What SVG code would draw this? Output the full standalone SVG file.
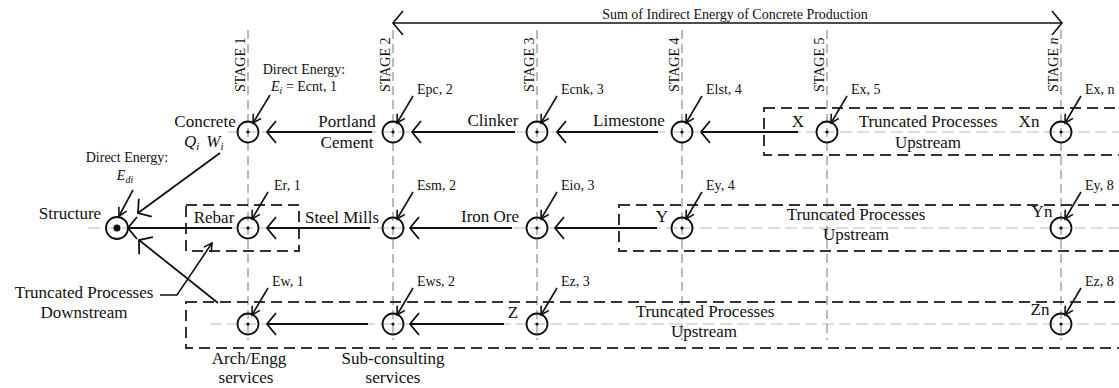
<svg xmlns="http://www.w3.org/2000/svg" width="1119" height="388" viewBox="0 0 1119 388">
<style>
text{font-family:"Liberation Serif","Times New Roman",serif;fill:#111}
.lb{font-size:17px}
.sm{font-size:14px}
.st{font-size:14px}
.tp{font-size:14px}
.it{font-style:italic}
.stage{stroke:#777;stroke-width:1;stroke-dasharray:9 5;fill:none}
.cl{stroke:#bbb;stroke-width:1;stroke-dasharray:12 5;fill:none}
.box{stroke:#333;stroke-width:2;stroke-dasharray:11 6;fill:none}
.nd{stroke:#111;stroke-width:1.8;fill:none}
.dot{fill:#111}
.ar{stroke:#111;stroke-width:1.8;fill:none;marker-end:url(#big)}
.pt{stroke:#111;stroke-width:1.6;fill:none;marker-end:url(#sm)}
</style>
<defs>
<marker id="big" markerUnits="userSpaceOnUse" markerWidth="30" markerHeight="30" refX="0" refY="0" orient="auto" overflow="visible" viewBox="-15 -15 30 30">
<path d="M9,-11 L0,0 L9,11" transform="scale(-1,1)" stroke="#111" stroke-width="1.8" fill="none"/>
</marker>
<marker id="sm" markerUnits="userSpaceOnUse" markerWidth="20" markerHeight="20" refX="0" refY="0" orient="auto" overflow="visible" viewBox="-10 -10 20 20">
<path d="M-8,-4.5 L0,0 L-8,4.5" stroke="#111" stroke-width="1.6" fill="none"/>
</marker>
<marker id="top" markerUnits="userSpaceOnUse" markerWidth="30" markerHeight="30" refX="0" refY="0" orient="auto-start-reverse" overflow="visible" viewBox="-15 -15 30 30">
<path d="M-10,-12 L0,0 L-10,12" stroke="#111" stroke-width="1.6" fill="none"/>
</marker>
</defs>
<rect width="1119" height="388" fill="#fff"/>

<g id="gridlines">
<line class="cl" x1="228" y1="132" x2="1119" y2="132"/>
<line class="cl" x1="88" y1="228" x2="1119" y2="228"/>
<line class="cl" x1="210" y1="324" x2="1119" y2="324"/>
<line class="stage" x1="248" y1="30" x2="248" y2="340"/>
<line class="stage" x1="393" y1="30" x2="393" y2="340"/>
<line class="stage" x1="537" y1="30" x2="537" y2="340"/>
<line class="stage" x1="682" y1="30" x2="682" y2="340"/>
<line class="stage" x1="827" y1="30" x2="827" y2="340"/>
<line class="stage" x1="1061" y1="30" x2="1061" y2="340"/>
<text class="st" transform="translate(245,92) rotate(-90)">STAGE 1</text>
<text class="st" transform="translate(390,92) rotate(-90)">STAGE 2</text>
<text class="st" transform="translate(534,92) rotate(-90)">STAGE 3</text>
<text class="st" transform="translate(679,92) rotate(-90)">STAGE 4</text>
<text class="st" transform="translate(824,92) rotate(-90)">STAGE 5</text>
<text class="st" transform="translate(1058,92) rotate(-90)">STAGE <tspan class="it">n</tspan></text>
</g>

<g id="sum-arrow">
<line x1="393" y1="23" x2="1062" y2="23" stroke="#111" stroke-width="1.6" marker-start="url(#top)" marker-end="url(#top)"/>
<text class="tp" x="735" y="19" text-anchor="middle">Sum of Indirect Energy of Concrete Production</text>
</g>

<g id="boxes">
<rect class="box" x="186" y="205" width="113" height="46"/>
<rect class="box" x="764" y="108" width="380" height="47"/>
<rect class="box" x="619" y="205" width="525" height="46"/>
<rect class="box" x="186" y="302" width="958" height="46"/>
</g>

<g id="structure">
<circle class="nd" cx="117" cy="228" r="11"/>
<circle class="dot" cx="117" cy="228" r="3.5"/>
<text class="lb" x="70" y="219" text-anchor="middle">Structure</text>
<text class="sm" x="127" y="162" text-anchor="middle">Direct Energy:</text>
<text class="sm" x="125" y="180" text-anchor="middle"><tspan class="it">E</tspan><tspan class="it" font-size="10" dy="3">di</tspan></text>
</g>

<g id="concrete">
<circle class="nd" cx="248" cy="132" r="10.5"/>
<circle class="dot" cx="248" cy="132" r="1.6"/>
<text class="lb" x="205" y="127" text-anchor="middle">Concrete</text>
<text class="lb" x="184" y="147"><tspan class="it">Q</tspan><tspan class="it" font-size="11" dy="3">i</tspan><tspan class="it" dx="7" dy="-3">W</tspan><tspan class="it" font-size="11" dy="3">i</tspan></text>
<text class="sm" x="304" y="74" text-anchor="middle">Direct Energy:</text>
<text class="sm" x="304" y="91" text-anchor="middle"><tspan class="it">E</tspan><tspan class="it" font-size="10" dy="3">i</tspan><tspan dy="-3"> = Ecnt, 1</tspan></text>
</g>

<g id="portland-cement">
<circle class="nd" cx="393" cy="132" r="10.5"/>
<circle class="dot" cx="393" cy="132" r="1.6"/>
<text class="lb" x="347" y="127" text-anchor="middle">Portland</text>
<text class="lb" x="347" y="148" text-anchor="middle">Cement</text>
<text class="sm" x="417" y="94">Epc, 2</text>
</g>

<g id="clinker">
<circle class="nd" cx="537" cy="132" r="10.5"/>
<circle class="dot" cx="537" cy="132" r="1.6"/>
<text class="lb" x="493" y="126" text-anchor="middle">Clinker</text>
<text class="sm" x="561" y="94">Ecnk, 3</text>
</g>

<g id="limestone">
<circle class="nd" cx="682" cy="132" r="10.5"/>
<circle class="dot" cx="682" cy="132" r="1.6"/>
<text class="lb" x="629" y="126" text-anchor="middle">Limestone</text>
<text class="sm" x="706" y="94">Elst, 4</text>
</g>

<g id="x5">
<circle class="nd" cx="827" cy="132" r="10.5"/>
<circle class="dot" cx="827" cy="132" r="1.6"/>
<text class="lb" x="798" y="127" text-anchor="middle">X</text>
<text class="sm" x="851" y="94">Ex, 5</text>
<text class="lb" x="928" y="127" text-anchor="middle">Truncated Processes</text>
<text class="lb" x="928" y="148" text-anchor="middle">Upstream</text>
</g>

<g id="xn">
<circle class="nd" cx="1061" cy="132" r="10.5"/>
<circle class="dot" cx="1061" cy="132" r="1.6"/>
<text class="lb" x="1029" y="127" text-anchor="middle">Xn</text>
<text class="sm" x="1085" y="94">Ex, n</text>
</g>

<g id="rebar">
<circle class="nd" cx="248" cy="228" r="10.5"/>
<circle class="dot" cx="248" cy="228" r="1.6"/>
<text class="lb" x="214" y="223" text-anchor="middle">Rebar</text>
<text class="sm" x="274" y="190">Er, 1</text>
</g>

<g id="steel-mills">
<circle class="nd" cx="393" cy="228" r="10.5"/>
<circle class="dot" cx="393" cy="228" r="1.6"/>
<text class="lb" x="342" y="223" text-anchor="middle">Steel Mills</text>
<text class="sm" x="417" y="190">Esm, 2</text>
</g>

<g id="iron-ore">
<circle class="nd" cx="537" cy="228" r="10.5"/>
<circle class="dot" cx="537" cy="228" r="1.6"/>
<text class="lb" x="490" y="222" text-anchor="middle">Iron Ore</text>
<text class="sm" x="561" y="190">Eio, 3</text>
</g>

<g id="y4">
<circle class="nd" cx="682" cy="228" r="10.5"/>
<circle class="dot" cx="682" cy="228" r="1.6"/>
<text class="lb" x="662" y="222" text-anchor="middle">Y</text>
<text class="sm" x="706" y="190">Ey, 4</text>
<text class="lb" x="856" y="220" text-anchor="middle">Truncated Processes</text>
<text class="lb" x="856" y="240" text-anchor="middle">Upstream</text>
</g>

<g id="yn">
<circle class="nd" cx="1061" cy="228" r="10.5"/>
<circle class="dot" cx="1061" cy="228" r="1.6"/>
<text class="lb" x="1042" y="217" text-anchor="middle">Yn</text>
<text class="sm" x="1085" y="190">Ey, 8</text>
</g>

<g id="arch-engg">
<circle class="nd" cx="248" cy="324" r="10.5"/>
<circle class="dot" cx="248" cy="324" r="1.6"/>
<text class="lb" x="249" y="364" text-anchor="middle">Arch/Engg</text>
<text class="lb" x="246" y="383" text-anchor="middle">services</text>
<text class="sm" x="272" y="286">Ew, 1</text>
</g>

<g id="sub-consulting">
<circle class="nd" cx="393" cy="324" r="10.5"/>
<circle class="dot" cx="393" cy="324" r="1.6"/>
<text class="lb" x="393" y="364" text-anchor="middle">Sub-consulting</text>
<text class="lb" x="393" y="383" text-anchor="middle">services</text>
<text class="sm" x="417" y="286">Ews, 2</text>
</g>

<g id="z3">
<circle class="nd" cx="537" cy="324" r="10.5"/>
<circle class="dot" cx="537" cy="324" r="1.6"/>
<text class="lb" x="513" y="318" text-anchor="middle">Z</text>
<text class="sm" x="561" y="286">Ez, 3</text>
<text class="lb" x="705" y="317" text-anchor="middle">Truncated Processes</text>
<text class="lb" x="704" y="337" text-anchor="middle">Upstream</text>
</g>

<g id="zn">
<circle class="nd" cx="1061" cy="324" r="10.5"/>
<circle class="dot" cx="1061" cy="324" r="1.6"/>
<text class="lb" x="1040" y="315" text-anchor="middle">Zn</text>
<text class="sm" x="1085" y="286">Ez, 8</text>
</g>

<g id="downstream">
<text class="lb" x="84" y="298" text-anchor="middle">Truncated Processes</text>
<text class="lb" x="84" y="318" text-anchor="middle">Downstream</text>
</g>

<g id="connectors">
<line class="ar" x1="372" y1="132" x2="267" y2="132"/>
<line class="ar" x1="515" y1="132" x2="412" y2="132"/>
<line class="ar" x1="658" y1="132" x2="557" y2="132"/>
<line class="ar" x1="798" y1="132" x2="701" y2="132"/>
<line class="ar" x1="232" y1="228" x2="128" y2="228"/>
<line class="ar" x1="370" y1="228" x2="267" y2="228"/>
<line class="ar" x1="512" y1="228" x2="410" y2="228"/>
<line class="ar" x1="657" y1="228" x2="555" y2="228"/>
<line class="ar" x1="368" y1="324" x2="267" y2="324"/>
<line class="ar" x1="504" y1="324" x2="410" y2="324"/>
<line class="ar" x1="220" y1="153" x2="138" y2="213"/>
<line class="ar" x1="218" y1="303" x2="139" y2="240"/>
<line class="pt" x1="133" y1="190" x2="119" y2="216"/>
<polyline class="pt" points="160,295 177,295 212,243"/>
<line class="pt" x1="270" y1="95" x2="253" y2="123"/>
<line class="pt" x1="413" y1="96" x2="397" y2="123"/>
<line class="pt" x1="557" y1="96" x2="541" y2="123"/>
<line class="pt" x1="702" y1="96" x2="686" y2="123"/>
<line class="pt" x1="847" y1="96" x2="831" y2="123"/>
<line class="pt" x1="1081" y1="96" x2="1065" y2="123"/>
<line class="pt" x1="268" y1="192" x2="252" y2="219"/>
<line class="pt" x1="413" y1="192" x2="397" y2="219"/>
<line class="pt" x1="557" y1="192" x2="541" y2="219"/>
<line class="pt" x1="702" y1="192" x2="686" y2="219"/>
<line class="pt" x1="1081" y1="192" x2="1065" y2="219"/>
<line class="pt" x1="268" y1="288" x2="252" y2="315"/>
<line class="pt" x1="413" y1="288" x2="397" y2="315"/>
<line class="pt" x1="557" y1="288" x2="541" y2="315"/>
<line class="pt" x1="1081" y1="288" x2="1065" y2="315"/>
</g>
</svg>
